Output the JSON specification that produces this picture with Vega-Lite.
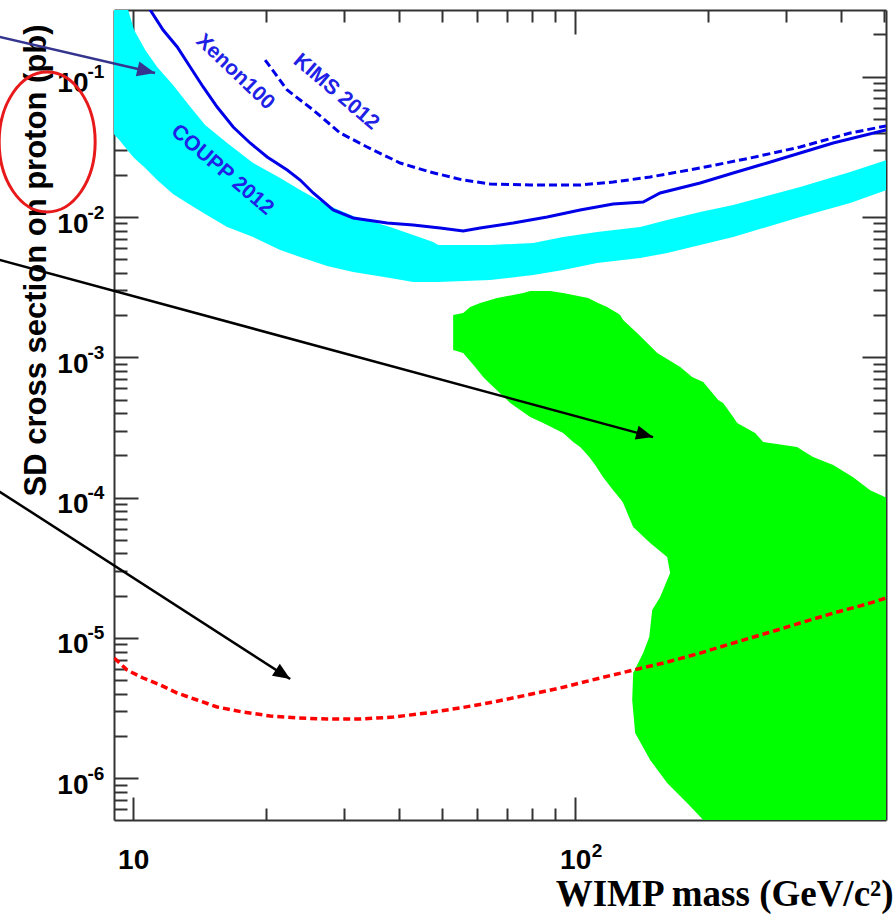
{
  "$schema": "https://vega.github.io/schema/vega-lite/v6.json",
  "width": 772,
  "height": 810,
  "autosize": {"type": "none"},
  "padding": {"left": 114, "top": 10, "right": 9, "bottom": 94},
  "background": "white",
  "config": {
    "view": {"stroke": null},
    "axis": {
      "domain": false,
      "grid": false,
      "tickColor": "#333333",
      "tickWidth": 2,
      "domainColor": "#333333",
      "domainWidth": 2,
      "labelFont": "Liberation Sans",
      "labelFontWeight": "bold",
      "labelFontSize": 28,
      "labelColor": "#000000",
      "labelOverlap": false,
      "labelFlush": false,
      "labelBound": false,
      "zindex": 1
    }
  },
  "datasets": {
    "coupp": [
      {"mass": 9.0, "sigma": 0.679, "sigma2": 0.0397},
      {"mass": 9.345, "sigma": 0.45, "sigma2": 0.0348},
      {"mass": 9.743, "sigma": 0.2988, "sigma2": 0.02954},
      {"mass": 10.05, "sigma": 0.2152, "sigma2": 0.02633},
      {"mass": 10.65, "sigma": 0.155, "sigma2": 0.02235},
      {"mass": 11.33, "sigma": 0.1172, "sigma2": 0.01835},
      {"mass": 12.31, "sigma": 0.0873, "sigma2": 0.01458},
      {"mass": 13.25, "sigma": 0.0649, "sigma2": 0.01258},
      {"mass": 14.55, "sigma": 0.04525, "sigma2": 0.01051},
      {"mass": 16.32, "sigma": 0.03369, "sigma2": 0.00849},
      {"mass": 18.68, "sigma": 0.02426, "sigma2": 0.0072},
      {"mass": 21.51, "sigma": 0.01897, "sigma2": 0.00582},
      {"mass": 23.87, "sigma": 0.01557, "sigma2": 0.00519},
      {"mass": 27.48, "sigma": 0.01218, "sigma2": 0.00448},
      {"mass": 31.46, "sigma": 0.01016, "sigma2": 0.00406},
      {"mass": 38.15, "sigma": 0.00849, "sigma2": 0.00367},
      {"mass": 43.0, "sigma": 0.00744, "sigma2": 0.00344},
      {"mass": 47.72, "sigma": 0.00663, "sigma2": 0.00344},
      {"mass": 48.98, "sigma": 0.00632, "sigma2": 0.00344},
      {"mass": 64.23, "sigma": 0.00632, "sigma2": 0.00356},
      {"mass": 80.36, "sigma": 0.00653, "sigma2": 0.00386},
      {"mass": 93.94, "sigma": 0.0072, "sigma2": 0.00419},
      {"mass": 112.1, "sigma": 0.00782, "sigma2": 0.0047},
      {"mass": 140.3, "sigma": 0.00849, "sigma2": 0.0051},
      {"mass": 161.5, "sigma": 0.00952, "sigma2": 0.00554},
      {"mass": 191.8, "sigma": 0.01086, "sigma2": 0.00632},
      {"mass": 227.8, "sigma": 0.01218, "sigma2": 0.0072},
      {"mass": 322.9, "sigma": 0.01636, "sigma2": 0.01},
      {"mass": 419.0, "sigma": 0.02092, "sigma2": 0.01258},
      {"mass": 520, "sigma": 0.0262, "sigma2": 0.016}
    ],
    "xenon": [
      {"mass": 10.59, "sigma": 0.352},
      {"mass": 10.93, "sigma": 0.2988},
      {"mass": 11.69, "sigma": 0.2152},
      {"mass": 12.58, "sigma": 0.1628},
      {"mass": 13.46, "sigma": 0.1172},
      {"mass": 14.4, "sigma": 0.0845},
      {"mass": 15.49, "sigma": 0.0608},
      {"mass": 16.84, "sigma": 0.0438},
      {"mass": 18.39, "sigma": 0.0337},
      {"mass": 20.1, "sigma": 0.0268},
      {"mass": 22.31, "sigma": 0.0216},
      {"mass": 23.87, "sigma": 0.01835},
      {"mass": 25.55, "sigma": 0.01483},
      {"mass": 28.35, "sigma": 0.01122},
      {"mass": 31.46, "sigma": 0.00984},
      {"mass": 37.56, "sigma": 0.00906},
      {"mass": 43.0, "sigma": 0.00877},
      {"mass": 49.5, "sigma": 0.00835},
      {"mass": 55.8, "sigma": 0.00795},
      {"mass": 60.97, "sigma": 0.00835},
      {"mass": 72.42, "sigma": 0.00906},
      {"mass": 86.44, "sigma": 0.01},
      {"mass": 102.6, "sigma": 0.01122},
      {"mass": 121.9, "sigma": 0.01238},
      {"mass": 142.5, "sigma": 0.01279},
      {"mass": 155.7, "sigma": 0.01483},
      {"mass": 191.8, "sigma": 0.01747},
      {"mass": 227.8, "sigma": 0.02058},
      {"mass": 271.9, "sigma": 0.02426},
      {"mass": 322.9, "sigma": 0.02859},
      {"mass": 383.5, "sigma": 0.03369},
      {"mass": 505, "sigma": 0.04171}
    ],
    "kims": [
      {"mass": 19.89, "sigma": 0.1315},
      {"mass": 22.31, "sigma": 0.0804},
      {"mass": 25.55, "sigma": 0.0579},
      {"mass": 29.4, "sigma": 0.0397},
      {"mass": 33.84, "sigma": 0.03154},
      {"mass": 40.19, "sigma": 0.02426},
      {"mass": 46.98, "sigma": 0.02092},
      {"mass": 55.8, "sigma": 0.01835},
      {"mass": 64.23, "sigma": 0.01719},
      {"mass": 79.11, "sigma": 0.01691},
      {"mass": 102.6, "sigma": 0.01691},
      {"mass": 121.9, "sigma": 0.01776},
      {"mass": 147.8, "sigma": 0.01928},
      {"mass": 191.8, "sigma": 0.02235},
      {"mass": 248.9, "sigma": 0.02633},
      {"mass": 322.9, "sigma": 0.03154},
      {"mass": 419.0, "sigma": 0.0397},
      {"mass": 505, "sigma": 0.04453}
    ],
    "projection": [
      {"mass": 9.06, "sigma": 7.19e-6},
      {"mass": 9.692, "sigma": 5.9e-6},
      {"mass": 10.53, "sigma": 5.18e-6},
      {"mass": 11.51, "sigma": 4.62e-6},
      {"mass": 12.58, "sigma": 4.05e-6},
      {"mass": 13.96, "sigma": 3.61e-6},
      {"mass": 15.49, "sigma": 3.22e-6},
      {"mass": 17.74, "sigma": 2.96e-6},
      {"mass": 20.42, "sigma": 2.78e-6},
      {"mass": 23.5, "sigma": 2.69e-6},
      {"mass": 27.48, "sigma": 2.64e-6},
      {"mass": 32.62, "sigma": 2.64e-6},
      {"mass": 38.75, "sigma": 2.73e-6},
      {"mass": 46.25, "sigma": 2.92e-6},
      {"mass": 54.93, "sigma": 3.17e-6},
      {"mass": 65.24, "sigma": 3.49e-6},
      {"mass": 77.88, "sigma": 3.92e-6},
      {"mass": 92.49, "sigma": 4.4e-6},
      {"mass": 113.9, "sigma": 5.18e-6},
      {"mass": 135.3, "sigma": 5.9e-6},
      {"mass": 161.5, "sigma": 6.73e-6},
      {"mass": 191.8, "sigma": 7.8e-6},
      {"mass": 227.8, "sigma": 9.19e-6},
      {"mass": 271.9, "sigma": 1.084e-5},
      {"mass": 322.9, "sigma": 1.277e-5},
      {"mass": 383.5, "sigma": 1.504e-5},
      {"mass": 457.7, "sigma": 1.745e-5},
      {"mass": 505, "sigma": 1.924e-5}
    ],
    "region": [
      {"sigma": 0.002969, "mass": 79.11, "mass2": 87.8},
      {"sigma": 0.002873, "mass": 76.26, "mass2": 93.94},
      {"sigma": 0.002647, "mass": 66.61, "mass2": 107.0},
      {"sigma": 0.002438, "mass": 60.97, "mass2": 112.7},
      {"sigma": 0.002283, "mass": 57.87, "mass2": 118.1},
      {"sigma": 0.002069, "mass": 55.8, "mass2": 124.5},
      {"sigma": 0.002002, "mass": 52.97, "mass2": 126.4},
      {"sigma": 0.001844, "mass": 52.97, "mass2": 128.4},
      {"sigma": 0.00149, "mass": 52.97, "mass2": 138.1},
      {"sigma": 0.001127, "mass": 52.97, "mass2": 151.0},
      {"sigma": 0.001073, "mass": 55.8, "mass2": 153.4},
      {"sigma": 0.000853, "mass": 59.4, "mass2": 172.9},
      {"sigma": 0.000724, "mass": 61.93, "mass2": 183.9},
      {"sigma": 0.000667, "mass": 63.56, "mass2": 194.9},
      {"sigma": 0.000496, "mass": 70.18, "mass2": 210.7},
      {"sigma": 0.000472, "mass": 71.29, "mass2": 216.2},
      {"sigma": 0.000375, "mass": 79.11, "mass2": 227.8},
      {"sigma": 0.00034, "mass": 84.65, "mass2": 232.6},
      {"sigma": 0.000289, "mass": 93.94, "mass2": 255.4},
      {"sigma": 0.000249, "mass": 99.0, "mass2": 266.3},
      {"sigma": 0.00023, "mass": 102.6, "mass2": 317.9},
      {"sigma": 0.000218, "mass": 104.3, "mass2": 326.2},
      {"sigma": 0.000195, "mass": 107.6, "mass2": 345.5},
      {"sigma": 0.000171, "mass": 111.0, "mass2": 383.5},
      {"sigma": 0.00014, "mass": 115.7, "mass2": 425.6},
      {"sigma": 0.000113, "mass": 121.9, "mass2": 465.0},
      {"sigma": 9.61e-5, "mass": 127.1, "mass2": 520},
      {"sigma": 9.15e-5, "mass": 128.4, "mass2": 520},
      {"sigma": 6.17e-5, "mass": 135.3, "mass2": 520},
      {"sigma": 4.75e-5, "mass": 147.8, "mass2": 520},
      {"sigma": 3.77e-5, "mass": 161.5, "mass2": 520},
      {"sigma": 2.9e-5, "mass": 164.0, "mass2": 520},
      {"sigma": 1.96e-5, "mass": 155.7, "mass2": 520},
      {"sigma": 1.58e-5, "mass": 149.4, "mass2": 520},
      {"sigma": 1.015e-5, "mass": 147.1, "mass2": 520},
      {"sigma": 7.8e-6, "mass": 142.5, "mass2": 520},
      {"sigma": 5.62e-6, "mass": 135.3, "mass2": 520},
      {"sigma": 3.61e-6, "mass": 134.6, "mass2": 520},
      {"sigma": 2.1e-6, "mass": 136.7, "mass2": 520},
      {"sigma": 1.35e-6, "mass": 147.8, "mass2": 520},
      {"sigma": 9.24e-7, "mass": 161.5, "mass2": 520},
      {"sigma": 6.66e-7, "mass": 179.2, "mass2": 520},
      {"sigma": 5.04e-7, "mass": 194.9, "mass2": 520},
      {"sigma": 4.27e-7, "mass": 202.1, "mass2": 520}
    ],
    "labels": [
      {"text": "Xenon100", "mass": 17.01, "sigma": 0.108},
      {"text": "KIMS 2012", "mass": 28.8, "sigma": 0.0778},
      {"text": "COUPP 2012", "mass": 15.9, "sigma": 0.02163}
    ],
    "arrows": [
      {"arrow": "navy", "part": "tail", "mass": 4.95, "sigma": 0.1934},
      {"arrow": "navy", "part": "head", "mass": 11.21, "sigma": 0.1063},
      {"arrow": "upper", "part": "tail", "mass": 4.95, "sigma": 0.00498},
      {"arrow": "upper", "part": "head", "mass": 150.1, "sigma": 0.00027},
      {"arrow": "lower", "part": "tail", "mass": 4.95, "sigma": 0.000112},
      {"arrow": "lower", "part": "head", "mass": 22.66, "sigma": 5.1e-6}
    ],
    "marker": [
      {"mass": 6.389, "sigma": 0.03424}
    ]
  },
  "resolve": {"axis": {"x": "independent", "y": "independent"}},
  "encoding": {
    "x": {"field": "mass", "type": "quantitative", "scale": {"type": "log", "domain": [9.05, 505], "nice": false}, "axis": null},
    "y": {"field": "sigma", "type": "quantitative", "scale": {"type": "log", "domain": [5.04e-7, 0.2988], "nice": false}, "axis": null}
  },
  "layer": [
    {
      "data": {"name": "coupp"},
      "mark": {"type": "area", "color": "#00ffff", "clip": true},
      "encoding": {
        "x": {
          "field": "mass", "type": "quantitative",
          "scale": {"type": "log", "domain": [9.05, 505], "nice": false},
          "axis": {
            "orient": "bottom", "values": [10, 100], "tickSize": -23, "labelPadding": 49,
            "domain": true,
            "labelExpr": "'10'",
            "title": "WIMP mass (GeV/c²)", "titleFont": "Liberation Serif", "titleFontSize": 37,
            "titleFontWeight": "bold", "titleColor": "#000000", "titleAlign": "right",
            "titleBaseline": "alphabetic", "titleX": 779, "titleY": 85
          }
        },
        "y": {
          "field": "sigma", "type": "quantitative",
          "scale": {"type": "log", "domain": [5.04e-7, 0.2988], "nice": false},
          "axis": {
            "orient": "left", "values": [1e-6, 1e-5, 1e-4, 1e-3, 0.01, 0.1], "tickSize": -24,
            "labelPadding": 50, "labelOffset": 7, "domain": true,
            "labelExpr": "'10'",
            "title": "SD cross section on proton (pb)", "titleFont": "Liberation Sans", "titleFontSize": 31,
            "titleFontWeight": "bold", "titleColor": "#000000", "titleAngle": -90, "titleAlign": "center",
            "titleBaseline": "alphabetic", "titleX": -69, "titleY": 250
          }
        },
        "y2": {"field": "sigma2"}
      }
    },
    {
      "data": {"name": "region"},
      "mark": {"type": "area", "orient": "horizontal", "color": "#00ff00", "clip": true},
      "encoding": {
        "x": {
          "field": "mass", "type": "quantitative",
          "scale": {"type": "log", "domain": [9.05, 505], "nice": false},
          "axis": {
            "orient": "bottom", "values": [100], "ticks": false, "labelExpr": "'2'",
            "labelFontSize": 19, "labelAlign": "left", "labelBaseline": "top",
            "labelOffset": 16, "labelPadding": 21, "title": null
          }
        },
        "y": {
          "field": "sigma", "type": "quantitative",
          "scale": {"type": "log", "domain": [5.04e-7, 0.2988], "nice": false},
          "axis": {
            "orient": "left", "values": [1e-6, 1e-5, 1e-4, 1e-3, 0.01, 0.1], "ticks": false,
            "labelExpr": "datum.value < 5e-6 ? '-6' : datum.value < 5e-5 ? '-5' : datum.value < 5e-4 ? '-4' : datum.value < 5e-3 ? '-3' : datum.value < 0.05 ? '-2' : '-1'",
            "labelFontSize": 19, "labelAlign": "left", "labelBaseline": "middle",
            "labelOffset": -5, "labelPadding": 27, "title": null
          }
        },
        "x2": {"field": "mass2"}
      }
    },
    {
      "data": {"name": "xenon"},
      "mark": {"type": "line", "color": "#0000e8", "strokeWidth": 3, "clip": true},
      "encoding": {
        "x": {
          "field": "mass", "type": "quantitative",
          "scale": {"type": "log", "domain": [9.05, 505], "nice": false},
          "axis": {"orient": "bottom", "values": [20, 30, 40, 50, 60, 70, 80, 90, 200, 300, 400, 500], "tickSize": -12, "labels": false, "title": null}
        },
        "y": {
          "field": "sigma", "type": "quantitative",
          "scale": {"type": "log", "domain": [5.04e-7, 0.2988], "nice": false},
          "axis": {"orient": "left", "values": [6e-7, 7e-7, 8e-7, 9e-7, 2e-6, 3e-6, 4e-6, 5e-6, 6e-6, 7e-6, 8e-6, 9e-6, 2e-5, 3e-5, 4e-5, 5e-5, 6e-5, 7e-5, 8e-5, 9e-5, 2e-4, 3e-4, 4e-4, 5e-4, 6e-4, 7e-4, 8e-4, 9e-4, 0.002, 0.003, 0.004, 0.005, 0.006, 0.007, 0.008, 0.009, 0.02, 0.03, 0.04, 0.05, 0.06, 0.07, 0.08, 0.09, 0.2], "tickSize": -13, "labels": false, "title": null}
        }
      }
    },
    {
      "data": {"name": "kims"},
      "mark": {"type": "line", "color": "#0000e8", "strokeWidth": 3, "strokeDash": [8, 4], "clip": true},
      "encoding": {
        "x": {
          "field": "mass", "type": "quantitative",
          "scale": {"type": "log", "domain": [9.05, 505], "nice": false},
          "axis": {"orient": "top", "values": [10, 100], "tickSize": -24, "labels": false, "title": null, "domain": true}
        },
        "y": {
          "field": "sigma", "type": "quantitative",
          "scale": {"type": "log", "domain": [5.04e-7, 0.2988], "nice": false},
          "axis": {"orient": "right", "values": [1e-6, 1e-5, 1e-4, 1e-3, 0.01, 0.1], "tickSize": -24, "labels": false, "title": null, "domain": true}
        }
      }
    },
    {
      "data": {"name": "projection"},
      "mark": {"type": "line", "color": "#ff0000", "strokeWidth": 3.5, "strokeDash": [7, 4], "clip": true},
      "encoding": {
        "x": {
          "field": "mass", "type": "quantitative",
          "scale": {"type": "log", "domain": [9.05, 505], "nice": false},
          "axis": {"orient": "top", "values": [20, 30, 40, 50, 60, 70, 80, 90, 200, 300, 400, 500], "tickSize": -12, "labels": false, "title": null}
        },
        "y": {
          "field": "sigma", "type": "quantitative",
          "scale": {"type": "log", "domain": [5.04e-7, 0.2988], "nice": false},
          "axis": {"orient": "right", "values": [6e-7, 7e-7, 8e-7, 9e-7, 2e-6, 3e-6, 4e-6, 5e-6, 6e-6, 7e-6, 8e-6, 9e-6, 2e-5, 3e-5, 4e-5, 5e-5, 6e-5, 7e-5, 8e-5, 9e-5, 2e-4, 3e-4, 4e-4, 5e-4, 6e-4, 7e-4, 8e-4, 9e-4, 0.002, 0.003, 0.004, 0.005, 0.006, 0.007, 0.008, 0.009, 0.02, 0.03, 0.04, 0.05, 0.06, 0.07, 0.08, 0.09, 0.2], "tickSize": -13, "labels": false, "title": null}
        }
      }
    },
    {
      "data": {"name": "labels"},
      "transform": [{"filter": "datum.text === 'Xenon100'"}],
      "mark": {"type": "text", "font": "Liberation Sans", "fontWeight": "bold", "fontSize": 21, "color": "#2020e6", "align": "center", "baseline": "middle", "angle": 43.5},
      "encoding": {"text": {"field": "text"}}
    },
    {
      "data": {"name": "labels"},
      "transform": [{"filter": "datum.text !== 'Xenon100'"}],
      "mark": {"type": "text", "font": "Liberation Sans", "fontWeight": "bold", "fontSize": 21, "color": "#2020e6", "align": "center", "baseline": "middle", "angle": 40.5},
      "encoding": {"text": {"field": "text"}}
    },
    {
      "data": {"name": "marker"},
      "mark": {
        "type": "point",
        "shape": "M1,0C1,0.8054 0.5523,1.458 0,1.458C-0.5523,1.458 -1,0.8054 -1,0C-1,-0.8054 -0.5523,-1.458 0,-1.458C0.5523,-1.458 1,-0.8054 1,0Z",
        "size": 9216, "filled": false, "color": "#e8191a", "strokeWidth": 3, "opacity": 1
      }
    },
    {
      "data": {"name": "arrows"},
      "transform": [{"filter": "datum.arrow === 'navy'"}],
      "mark": {"type": "line", "color": "#35358f", "strokeWidth": 2.4},
      "encoding": {"order": {"field": "part", "sort": "descending"}}
    },
    {
      "data": {"name": "arrows"},
      "transform": [{"filter": "datum.arrow !== 'navy'"}],
      "mark": {"type": "line", "color": "#000000", "strokeWidth": 2.5},
      "encoding": {"detail": {"field": "arrow"}, "order": {"field": "part", "sort": "descending"}}
    },
    {
      "data": {"name": "arrows"},
      "transform": [{"filter": "datum.arrow === 'navy' && datum.part === 'head'"}],
      "mark": {"type": "point", "shape": "M0,0L0.85,2L-0.85,2Z", "size": 324, "filled": true, "color": "#35358f", "opacity": 1, "angle": 103.1}
    },
    {
      "data": {"name": "arrows"},
      "transform": [{"filter": "datum.arrow === 'upper' && datum.part === 'head'"}],
      "mark": {"type": "point", "shape": "M0,0L0.85,2L-0.85,2Z", "size": 289, "filled": true, "color": "#000000", "opacity": 1, "angle": 105.2}
    },
    {
      "data": {"name": "arrows"},
      "transform": [{"filter": "datum.arrow === 'lower' && datum.part === 'head'"}],
      "mark": {"type": "point", "shape": "M0,0L0.85,2L-0.85,2Z", "size": 289, "filled": true, "color": "#000000", "opacity": 1, "angle": 122.8}
    }
  ]
}
